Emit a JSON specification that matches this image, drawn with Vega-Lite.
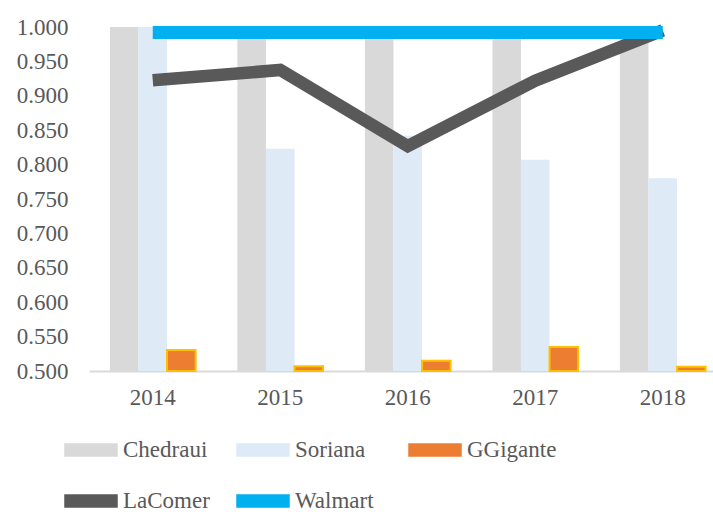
{
  "$schema": "https://vega.github.io/schema/vega-lite/v6.json",
  "autosize": {"type": "none"},
  "padding": {"left": 89, "top": 27, "right": 0, "bottom": 141},
  "width": 624,
  "height": 344,
  "background": "white",
  "config": {
    "view": {"stroke": null},
    "font": "Liberation Serif",
    "axis": {"labelFont": "Liberation Serif", "labelColor": "#595959", "labelFontSize": 23},
    "legend": {"labelFont": "Liberation Serif"},
    "text": {"font": "Liberation Serif"}
  },
  "data": {
    "values": [
      {"year": "2014", "series": "Chedraui", "value": 1.0},
      {"year": "2015", "series": "Chedraui", "value": 1.0},
      {"year": "2016", "series": "Chedraui", "value": 1.0},
      {"year": "2017", "series": "Chedraui", "value": 1.0},
      {"year": "2018", "series": "Chedraui", "value": 1.0},
      {"year": "2014", "series": "Soriana", "value": 1.0},
      {"year": "2015", "series": "Soriana", "value": 0.823},
      {"year": "2016", "series": "Soriana", "value": 0.842},
      {"year": "2017", "series": "Soriana", "value": 0.807},
      {"year": "2018", "series": "Soriana", "value": 0.780},
      {"year": "2014", "series": "GGigante", "value": 0.5305},
      {"year": "2015", "series": "GGigante", "value": 0.507},
      {"year": "2016", "series": "GGigante", "value": 0.515},
      {"year": "2017", "series": "GGigante", "value": 0.535},
      {"year": "2018", "series": "GGigante", "value": 0.506},
      {"year": "2014", "series": "LaComer", "value": 0.9225},
      {"year": "2015", "series": "LaComer", "value": 0.9375},
      {"year": "2016", "series": "LaComer", "value": 0.827},
      {"year": "2017", "series": "LaComer", "value": 0.922},
      {"year": "2018", "series": "LaComer", "value": 0.995},
      {"year": "2014", "series": "Walmart", "value": 0.992},
      {"year": "2015", "series": "Walmart", "value": 0.992},
      {"year": "2016", "series": "Walmart", "value": 0.992},
      {"year": "2017", "series": "Walmart", "value": 0.992},
      {"year": "2018", "series": "Walmart", "value": 0.992}
    ]
  },
  "encoding": {
    "x": {
      "field": "year", "type": "ordinal",
      "scale": {"range": [0, 637.5], "paddingInner": 0.328, "paddingOuter": 0.164},
      "axis": {"title": null, "labelAngle": 0, "ticks": false, "tickSize": 0, "labelPadding": 15, "labelFont": "Liberation Serif", "domainColor": "#D9D9D9", "domainWidth": 2, "grid": false}
    },
    "y": {
      "field": "value", "type": "quantitative",
      "scale": {"domain": [0.5, 1.0], "nice": false, "zero": false},
      "axis": {"title": null, "values": [0.5, 0.55, 0.6, 0.65, 0.7, 0.75, 0.8, 0.85, 0.9, 0.95, 1.0], "format": ".3f", "labelFont": "Liberation Serif", "grid": false, "domain": false, "ticks": false, "tickSize": 0, "labelPadding": 21}
    }
  },
  "layer": [
    {
      "transform": [{"filter": "datum.series === 'Chedraui' || datum.series === 'Soriana' || datum.series === 'GGigante'"}],
      "mark": {"type": "bar", "strokeWidth": 2},
      "encoding": {
        "xOffset": {"field": "series", "type": "nominal", "scale": {"domain": ["Chedraui", "Soriana", "GGigante"], "paddingInner": 0, "paddingOuter": 0}},
        "y2": {"datum": 0.5},
        "color": {
          "field": "series", "type": "nominal",
          "scale": {"domain": ["Chedraui", "Soriana", "GGigante", "LaComer", "Walmart"], "range": ["#D9D9D9", "#DEEBF7", "#ED7D31", "#595959", "#00B0F0"]},
          "legend": {
            "title": null,
            "orient": "none",
            "legendX": -25,
            "legendY": 396,
            "direction": "horizontal",
            "columns": 3,
            "gridAlign": "all",
            "columnPadding": 21,
            "rowPadding": 12,
            "padding": 0,
            "labelFont": "Liberation Serif",
            "labelFontSize": 23,
            "labelColor": "#595959",
            "labelOffset": 5,
            "labelLimit": 300,
            "symbolType": "M-1,-0.23H1V0.23H-1Z",
            "symbolSize": 2704,
            "encode": {
              "symbols": {
                "update": {
                  "fill": [
                    {"test": "datum.value === 'Chedraui'", "value": "#D9D9D9"},
                    {"test": "datum.value === 'Soriana'", "value": "#DEEBF7"},
                    {"test": "datum.value === 'GGigante'", "value": "#ED7D31"},
                    {"test": "datum.value === 'LaComer'", "value": "#595959"},
                    {"value": "#00B0F0"}
                  ],
                  "stroke": [
                    {"test": "datum.value === 'GGigante'", "value": "#FFC000"},
                    {"value": "transparent"}
                  ],
                  "strokeWidth": {"value": 2},
                  "opacity": {"value": 1},
                  "fillOpacity": {"value": 1}
                }
              },
              "labels": {
                "update": {
                  "font": {"value": "Liberation Serif"}
                }
              }
            }
          }
        },
        "stroke": {
          "condition": {"test": "datum.series === 'GGigante'", "value": "#FFC000"},
          "value": null
        }
      }
    },
    {
      "transform": [{"filter": "datum.series === 'LaComer'"}],
      "mark": {"type": "line", "strokeWidth": 12.5, "strokeCap": "butt", "strokeJoin": "miter"},
      "encoding": {
        "color": {"field": "series", "type": "nominal"}
      }
    },
    {
      "transform": [{"filter": "datum.series === 'Walmart'"}],
      "mark": {"type": "line", "strokeWidth": 13, "strokeCap": "butt", "strokeJoin": "miter"},
      "encoding": {
        "color": {"field": "series", "type": "nominal"}
      }
    }
  ]
}
